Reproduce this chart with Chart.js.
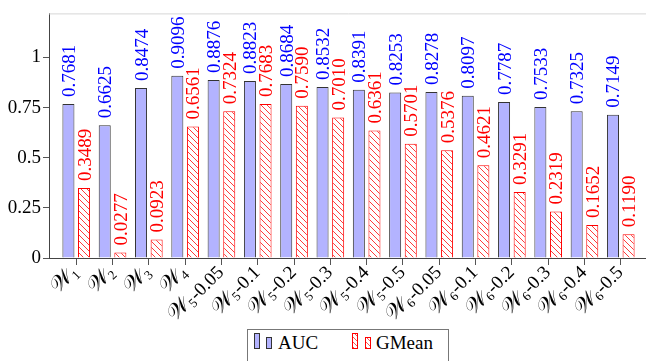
<!DOCTYPE html>
<html>
<head>
<meta charset="utf-8">
<script src="https://cdn.jsdelivr.net/npm/chart.js@4.4.0/dist/chart.umd.min.js"></script>
<style>
  html, body { margin: 0; padding: 0; background: #fff; overflow: hidden; width: 646px; height: 361px; }
  #wrap { position: relative; width: 698px; height: 361px; }
  #chart { position: absolute; left: 0; top: 0; }
  #legend {
    position: absolute; left: 247px; top: 329px; width: 200px; height: 40px;
    border: 1px solid #777; background: #fff;
    font-family: 'Liberation Serif', serif; font-size: 19px; line-height: 19px; color: #000;
  }
  #legend .sw { position: absolute; width: 6px; box-sizing: border-box; }
  #legend .auc { background: #b3b3ff; border: 1px solid #333; }
  #legend .gm { border: 1px solid #ff0000;
    background: repeating-linear-gradient(45deg, #ff5555 0 1px, #fff 1px 3.6px); }
  #legend .tall { top: 3px; height: 16px; }
  #legend .short { top: 7px; height: 12px; }
  #legend .txt { position: absolute; top: 3px; white-space: nowrap; }
</style>
</head>
<body>
<div id="wrap">
  <canvas id="chart" width="698" height="361" style="width:698px;height:361px"></canvas>
  <div id="legend">
    <span class="sw auc tall" style="left:6px"></span>
    <span class="sw auc short" style="left:18px"></span>
    <span class="txt" style="left:30px">AUC</span>
    <span class="sw gm tall" style="left:104px"></span>
    <span class="sw gm short" style="left:117px"></span>
    <span class="txt" style="left:128px">GMean</span>
  </div>
</div>
<script>
// Weighting schemes (W index + optional parameter) and their scores
const categories = ['W1', 'W2', 'W3', 'W4',
  'W5-0.05', 'W5-0.1', 'W5-0.2', 'W5-0.3', 'W5-0.4', 'W5-0.5',
  'W6-0.05', 'W6-0.1', 'W6-0.2', 'W6-0.3', 'W6-0.4', 'W6-0.5'];
const aucValues = [0.7681, 0.6625, 0.8474, 0.9096,
  0.8876, 0.8823, 0.8684, 0.8532, 0.8391, 0.8253,
  0.8278, 0.8097, 0.7787, 0.7533, 0.7325, 0.7149];
const gmeanValues = [0.3489, 0.0277, 0.0923, 0.6561,
  0.7324, 0.7683, 0.7590, 0.7010, 0.6361, 0.5701,
  0.5376, 0.4621, 0.3291, 0.2319, 0.1652, 0.1190];
const yTickValues = [0, 0.25, 0.5, 0.75, 1];
const yTickLabels = ['0', '0.25', '0.5', '0.75', '1'];

const SERIF = "'Liberation Serif', serif";
const canvas = document.getElementById('chart');
const ctx0 = canvas.getContext('2d');

// diagonal "\" hatch used for the GMean bars
function makeHatch(color) {
  const s = 6;
  const c = document.createElement('canvas');
  c.width = s; c.height = s;
  const g = c.getContext('2d');
  g.fillStyle = '#fff';
  g.fillRect(0, 0, s, s);
  g.strokeStyle = color;
  g.lineWidth = 1;
  g.beginPath();
  g.moveTo(0, 0); g.lineTo(s, s);
  g.moveTo(-1, s - 1); g.lineTo(1, s + 1);
  g.moveTo(s - 1, -1); g.lineTo(s + 1, 1);
  g.stroke();
  return ctx0.createPattern(c, 'repeat');
}

// values written vertically above each bar
const valueLabels = {
  id: 'valueLabels',
  afterDatasetsDraw(chart) {
    const ctx = chart.ctx;
    chart.data.datasets.forEach((ds, d) => {
      const meta = chart.getDatasetMeta(d);
      meta.data.forEach((el, i) => {
        ctx.save();
        ctx.translate(el.x, el.y - 7);
        ctx.rotate(-Math.PI / 2);
        ctx.font = '19px ' + SERIF;
        ctx.fillStyle = ds.valueColor;
        ctx.textAlign = 'left';
        ctx.textBaseline = 'alphabetic';
        ctx.fillText(ds.data[i].y.toFixed(4), 0, 6.5);
        ctx.restore();
      });
    });
  }
};

// slanted category names with subscripted scheme index
const categoryLabels = {
  id: 'categoryLabels',
  afterDraw(chart) {
    const ctx = chart.ctx;
    const xs = chart.scales.x;
    const base = chart.chartArea.bottom;
    categories.forEach((cat, i) => {
      const m = /^W(\d)(.*)$/.exec(cat);
      const sub = m[1], rest = m[2];
      const x = xs.getPixelForValue(i);
      ctx.save();
      ctx.translate(x - 1, base + 11);
      ctx.rotate(-Math.PI / 4);
      ctx.fillStyle = '#000';
      ctx.textAlign = 'left';
      ctx.textBaseline = 'alphabetic';
      ctx.font = '19px ' + SERIF;
      const wRest = ctx.measureText(rest).width;
      ctx.font = '13px ' + SERIF;
      const wSub = ctx.measureText(sub).width;
      ctx.font = "22px 'DejaVu Serif', serif";
      const wW = ctx.measureText('\u{1D4B2}').width;
      const by = 6;
      let cx = -wRest;
      ctx.font = '19px ' + SERIF;
      ctx.fillText(rest, cx, by);
      cx -= wSub + 0.5;
      ctx.font = '13px ' + SERIF;
      ctx.fillText(sub, cx, by + 3);
      cx -= wW;
      ctx.font = "22px 'DejaVu Serif', serif";
      ctx.fillText('\u{1D4B2}', cx, by);
      ctx.restore();
    });
  }
};

// faint upper frame line of the plot box
const topFrame = {
  id: 'topFrame',
  beforeDatasetsDraw(chart) {
    const { ctx, chartArea } = chart;
    ctx.save();
    ctx.strokeStyle = '#d6d6d6';
    ctx.lineWidth = 1;
    ctx.beginPath();
    ctx.moveTo(chartArea.left, chartArea.top + 0.5);
    ctx.lineTo(chartArea.right, chartArea.top + 0.5);
    ctx.stroke();
    ctx.restore();
  }
};

new Chart(canvas, {
  type: 'bar',
  data: {
    datasets: [
      {
        label: 'AUC',
        data: aucValues.map((v, i) => ({ x: i, y: v })),
        backgroundColor: '#b3b3ff',
        borderColor: '#333333',
        borderWidth: 1,
        valueColor: '#0000ff'
      },
      {
        label: 'GMean',
        data: gmeanValues.map((v, i) => ({ x: i, y: v })),
        backgroundColor: makeHatch('#ff3b3b'),
        borderColor: '#ff0000',
        borderWidth: 1,
        valueColor: '#ff0000'
      }
    ]
  },
  options: {
    responsive: false,
    maintainAspectRatio: false,
    animation: false,
    devicePixelRatio: 1,
    layout: { padding: { left: 0, right: 50, top: 7, bottom: 0 } },
    datasets: { bar: { categoryPercentage: 0.86, barPercentage: 0.77 } },
    plugins: { legend: { display: false }, tooltip: { enabled: false } },
    scales: {
      x: {
        type: 'linear',
        offset: false,
        min: -0.75,
        max: 15.75,
        afterBuildTicks: s => { s.ticks = categories.map((_, i) => ({ value: i })); },
        afterFit: s => { s.height = 103; },
        ticks: { display: false },
        grid: { offset: false, drawOnChartArea: false, drawTicks: true, tickLength: 7, color: '#555' },
        border: { color: '#444', width: 1 }
      },
      y: {
        min: 0,
        max: 1.22,
        afterBuildTicks: s => { s.ticks = yTickValues.map(v => ({ value: v })); },
        afterFit: s => { s.width = 49; },
        ticks: {
          font: { family: SERIF, size: 19 },
          color: '#000',
          padding: 2,
          callback: v => yTickLabels[yTickValues.indexOf(v)]
        },
        grid: { drawOnChartArea: false, drawTicks: true, tickLength: 6, color: '#555' },
        border: { color: '#444', width: 1 }
      }
    }
  },
  plugins: [topFrame, valueLabels, categoryLabels]
});
</script>
</body>
</html>
